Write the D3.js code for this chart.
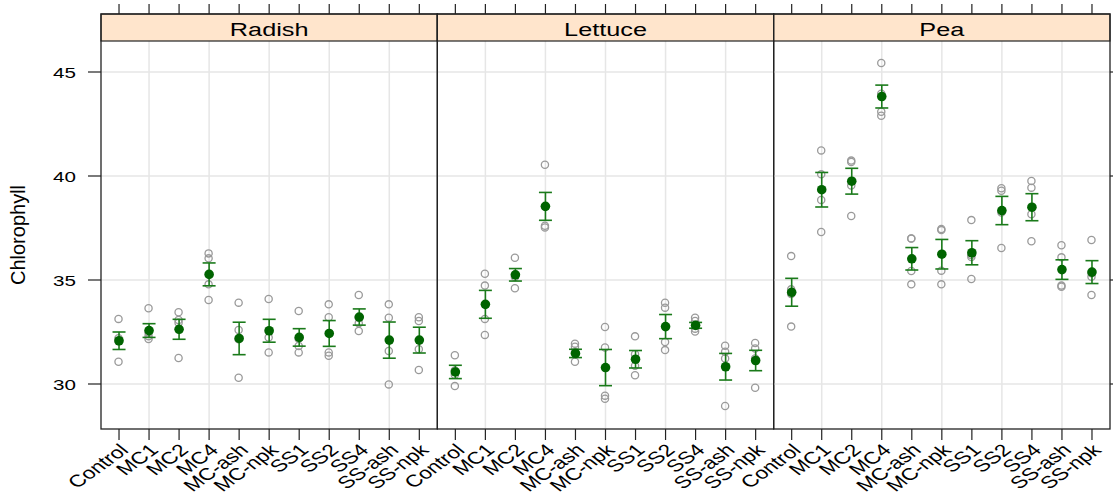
<!DOCTYPE html>
<html>
<head>
<meta charset="utf-8">
<script src="https://cdn.jsdelivr.net/npm/d3@7"></script>
<style>
  body { margin: 0; background: #fff; }
  text { font-family: "Liberation Sans", Arial, sans-serif; fill: #000; }
</style>
</head>
<body>
<div id="chart"></div>
<script>
let crops = ["Radish", "Lettuce", "Pea"];
let treatments = ["Control", "MC1", "MC2", "MC4", "MC-ash", "MC-npk",
  "SS1", "SS2", "SS4", "SS-ash", "SS-npk"];
let yTicks = [30, 35, 40, 45];

// replicate readings (open circles)
let radishReps = [
  [33.13, 32.2, 32.05, 31.07], [33.64, 32.47, 32.3, 32.16], [33.45, 33.08, 32.95, 31.25],
  [36.28, 36.04, 34.79, 34.04], [33.91, 32.6, 32.15, 30.3], [34.09, 32.56, 32.23, 31.52],
  [33.51, 32.18, 31.83, 31.52], [33.83, 33.21, 31.52, 31.36], [34.28, 33.19, 32.92, 32.55],
  [33.83, 33.19, 31.59, 29.98], [33.21, 33.03, 31.67, 30.67]
];
let lettuceReps = [
  [31.38, 30.65, 30.45, 29.9], [35.3, 34.73, 33.13, 32.36], [36.07, 35.25, 35.15, 34.6],
  [40.54, 38.53, 37.61, 37.53], [31.94, 31.79, 31.51, 31.07], [32.74, 31.76, 29.44, 29.29],
  [32.29, 31.43, 30.88, 30.42], [33.91, 33.67, 32.02, 31.63], [33.19, 33.03, 32.66, 32.52],
  [31.84, 31.55, 31.23, 28.94], [31.97, 31.71, 31.23, 29.82]
];
let peaReps = [
  [36.15, 34.55, 34.33, 32.76], [41.23, 40.08, 38.85, 37.31], [40.74, 40.67, 39.54, 38.08],
  [45.43, 43.96, 43.09, 42.9], [37.0, 36.99, 35.43, 34.79], [37.45, 37.4, 35.45, 34.79],
  [37.88, 36.2, 36.11, 35.05], [39.41, 39.29, 38.24, 36.54], [39.76, 39.44, 38.16, 36.86],
  [36.67, 36.09, 34.73, 34.68], [36.92, 35.32, 35.16, 34.28]
];

// means and standard errors (filled points + bars)
let radishMean = [32.08, 32.57, 32.63, 35.27, 32.19, 32.56, 32.24, 32.43, 33.22, 32.11, 32.11];
let radishSE   = [0.42, 0.33, 0.48, 0.55, 0.78, 0.55, 0.42, 0.62, 0.39, 0.87, 0.62];
let lettuceMean = [30.58, 33.83, 35.25, 38.54, 31.47, 30.79, 31.19, 32.76, 32.82, 30.83, 31.13];
let lettuceSE   = [0.32, 0.67, 0.30, 0.67, 0.20, 0.87, 0.42, 0.58, 0.14, 0.64, 0.49];
let peaMean = [34.41, 39.34, 39.75, 43.82, 36.02, 36.24, 36.31, 38.34, 38.50, 35.50, 35.38];
let peaSE   = [0.67, 0.83, 0.62, 0.55, 0.54, 0.71, 0.58, 0.68, 0.65, 0.47, 0.55];

let reps = [radishReps, lettuceReps, peaReps];
let means = [radishMean, lettuceMean, peaMean];
let ses = [radishSE, lettuceSE, peaSE];

let w = 1113, h = 498;
let padLeft = 101, padRight = 1110, padTop = 14, stripH = 27, padBottom = 429;
let panelW = (padRight - padLeft) / crops.length;
let stretch = 1.33;

let svg = d3.select("#chart").append("svg")
  .attr("width", w)
  .attr("height", h);

let yScale = d3.scaleLinear()
  .domain([30, 45])
  .range([384, 72]);

let xScale = d3.scalePoint()
  .domain(treatments)
  .range([0, panelW])
  .padding(0.6);

crops.forEach(function(crop, p) {
  let x0 = padLeft + p * panelW;
  let g = svg.append("g").attr("transform", "translate(" + x0 + ",0)");

  // grid
  g.selectAll(".vgrid")
    .data(treatments.filter(function(d, i) { return i % 2 == 1; }))
    .enter().append("line")
    .attr("x1", function(d) { return xScale(d); })
    .attr("x2", function(d) { return xScale(d); })
    .attr("y1", padTop + stripH).attr("y2", padBottom)
    .attr("stroke", "#e6e6e6").attr("stroke-width", 1.5);
  g.selectAll(".hgrid")
    .data(yTicks)
    .enter().append("line")
    .attr("x1", 0).attr("x2", panelW)
    .attr("y1", function(d) { return yScale(d); })
    .attr("y2", function(d) { return yScale(d); })
    .attr("stroke", "#e6e6e6").attr("stroke-width", 1.5);

  // strip
  g.append("rect")
    .attr("x", 0).attr("y", padTop)
    .attr("width", panelW).attr("height", stripH)
    .attr("fill", "#ffe5cc")
    .attr("stroke", "#222").attr("stroke-width", 1.2);
  g.append("text")
    .attr("transform", "translate(" + (panelW / 2) + "," + (padTop + 22) + ") scale(" + stretch + ",1)")
    .attr("text-anchor", "middle")
    .attr("font-size", "19px")
    .text(crop);

  // replicate circles
  let pts = [];
  reps[p].forEach(function(arr, i) {
    arr.forEach(function(v) { pts.push({ t: treatments[i], v: v }); });
  });
  g.selectAll(".rep")
    .data(pts)
    .enter().append("circle")
    .attr("cx", function(d) { return xScale(d.t) - 0.5; })
    .attr("cy", function(d) { return yScale(d.v); })
    .attr("r", 3.6)
    .attr("fill", "none")
    .attr("stroke", "#9a9a9a")
    .attr("stroke-width", 1.3);

  // error bars
  let bars = g.selectAll(".bar")
    .data(treatments)
    .enter().append("g");
  bars.append("line")
    .attr("x1", function(d) { return xScale(d); })
    .attr("x2", function(d) { return xScale(d); })
    .attr("y1", function(d, i) { return yScale(means[p][i] + ses[p][i]); })
    .attr("y2", function(d, i) { return yScale(means[p][i] - ses[p][i]); });
  bars.append("line")
    .attr("x1", function(d) { return xScale(d) - 6.5; })
    .attr("x2", function(d) { return xScale(d) + 6.5; })
    .attr("y1", function(d, i) { return yScale(means[p][i] + ses[p][i]); })
    .attr("y2", function(d, i) { return yScale(means[p][i] + ses[p][i]); });
  bars.append("line")
    .attr("x1", function(d) { return xScale(d) - 6.5; })
    .attr("x2", function(d) { return xScale(d) + 6.5; })
    .attr("y1", function(d, i) { return yScale(means[p][i] - ses[p][i]); })
    .attr("y2", function(d, i) { return yScale(means[p][i] - ses[p][i]); });
  bars.selectAll("line")
    .attr("stroke", "#1a7a1a")
    .attr("stroke-width", 1.6);

  // means
  g.selectAll(".mean")
    .data(treatments)
    .enter().append("circle")
    .attr("cx", function(d) { return xScale(d); })
    .attr("cy", function(d, i) { return yScale(means[p][i]); })
    .attr("r", 4.8)
    .attr("fill", "#006400");

  // panel frame
  g.append("rect")
    .attr("x", 0).attr("y", padTop)
    .attr("width", panelW).attr("height", padBottom - padTop)
    .attr("fill", "none")
    .attr("stroke", "#222").attr("stroke-width", 1.3);

  // top and bottom ticks
  g.selectAll(".ttick")
    .data(treatments)
    .enter().append("line")
    .attr("x1", function(d) { return xScale(d); })
    .attr("x2", function(d) { return xScale(d); })
    .attr("y1", 4).attr("y2", padTop)
    .attr("stroke", "#222").attr("stroke-width", 1.2);
  g.selectAll(".btick")
    .data(treatments)
    .enter().append("line")
    .attr("x1", function(d) { return xScale(d); })
    .attr("x2", function(d) { return xScale(d); })
    .attr("y1", padBottom).attr("y2", padBottom + 11)
    .attr("stroke", "#222").attr("stroke-width", 1.2);

  g.selectAll(".xlab")
    .data(treatments)
    .enter().append("text")
    .attr("transform", function(d) {
      return "translate(" + (xScale(d) + 5) + "," + (padBottom + 18) + ") scale(" + stretch + ",1) rotate(-44)";
    })
    .attr("text-anchor", "end")
    .attr("dy", "0.35em")
    .attr("font-size", "17px")
    .text(function(d) { return d; });
});

// y axis left
svg.selectAll(".ytick")
  .data(yTicks)
  .enter().append("line")
  .attr("x1", 88).attr("x2", padLeft)
  .attr("y1", function(d) { return yScale(d); })
  .attr("y2", function(d) { return yScale(d); })
  .attr("stroke", "#222").attr("stroke-width", 1.2);
svg.selectAll(".ylab")
  .data(yTicks)
  .enter().append("text")
  .attr("transform", function(d) {
    return "translate(76," + yScale(d) + ") scale(" + stretch + ",1)";
  })
  .attr("text-anchor", "end")
  .attr("dy", "0.36em")
  .attr("font-size", "15.5px")
  .text(function(d) { return d; });

// y axis right
svg.selectAll(".rtick")
  .data(yTicks)
  .enter().append("line")
  .attr("x1", padRight).attr("x2", padRight + 12)
  .attr("y1", function(d) { return yScale(d); })
  .attr("y2", function(d) { return yScale(d); })
  .attr("stroke", "#222").attr("stroke-width", 1.2);

svg.append("text")
  .attr("transform", "translate(25,235) rotate(-90)")
  .attr("text-anchor", "middle")
  .attr("font-size", "20px")
  .text("Chlorophyll");
</script>
</body>
</html>
